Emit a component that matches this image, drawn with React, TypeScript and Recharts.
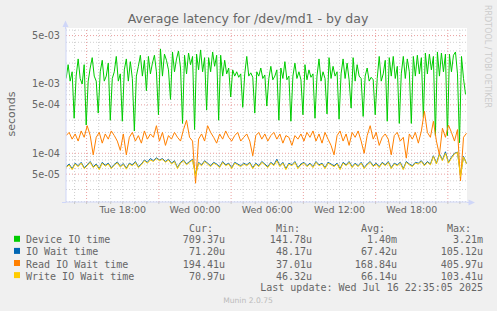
import { LineChart, Line, XAxis, YAxis, CartesianGrid, ReferenceLine } from 'recharts';

// hours counted from Tue 00:00, values in microseconds
// device io is read every 10 minutes, the wait series every 15 minutes
const DEVICE_START = 13.3;
const DEVICE_STEP = 1 / 6;
const WAIT_START = 13.3;
const WAIT_STEP = 0.25;

const deviceIo = [
  1200, 1900, 1100, 1500,
  320, 1300, 2300, 1200, 1000, 1900,
  256, 1100, 1700, 2400, 1300, 1100,
  380, 1500, 2200, 1100, 1300, 2000,
  300, 1200, 1500, 2500, 1100, 1400,
  290, 1600, 2300, 1100, 2100, 1200,
  210, 1300, 1800, 2600, 1300, 2200,
  800, 2500, 1400, 2000, 2600, 1500,
  360, 3210, 1300, 2700, 2200, 1600,
  600, 2900, 1500, 2300, 3000, 1700,
  270, 2600, 1400, 2800, 1900, 2500,
  220, 2700, 1600, 3100, 1500, 2400,
  420, 2400, 1500, 2900, 1800, 2600,
  300, 2600, 1300, 2200, 1400, 1700,
  650, 1600, 1300, 1500, 1250, 1400,
  460, 1400, 2500, 1300, 1450, 1250,
  380, 1500, 1300, 1700, 1200, 1350,
  480, 1200, 1800, 1150, 1300, 1600,
  300, 1700, 1200, 2100, 1150, 1300,
  290, 1300, 2000, 1200, 1500, 1150,
  360, 1900, 1150, 1600, 1250, 1400,
  320, 1300, 2300, 1100, 1500, 1200,
  370, 2400, 1200, 1800, 1300, 1500,
  310, 1400, 2300, 1200, 2000, 1150,
  450, 2400, 1100, 1900, 1300, 1200,
  340, 1300, 1700, 1100, 1250, 1150,
  360, 1200, 2500, 1100, 1400, 2200,
  290, 2400, 1300, 2500, 1200, 1800,
  270, 1400, 2500, 1200, 2300, 1500,
  270, 2500, 1300, 2600, 1400, 2400,
  330, 2800, 1400, 2700, 1600, 2500,
  180, 2900, 1300, 2800, 1500, 2700,
  180, 2700, 1500, 2600, 2900, 1400,
  142, 2500, 1200, 709.37,
];

const ioWait = [
  64, 70, 60, 72, 66, 74, 62, 68, 76, 64,
  70, 60, 74, 67, 72, 62, 69, 75, 65, 71,
  61, 72, 68, 76, 64, 70, 80, 74, 84, 78,
  86, 80, 84, 76, 82, 72, 78, 62, 74, 80,
  70, 76, 82, 49, 74, 68, 78, 72, 66, 74,
  70, 64, 76, 68, 72, 62, 74, 70, 66, 72,
  68, 74, 62, 72, 66, 76, 70, 64, 74, 68,
  82, 66, 74, 60, 72, 68, 76, 62, 70, 74,
  66, 72, 64, 76, 68, 72, 62, 74, 70, 66,
  72, 60, 74, 68, 76, 64, 72, 66, 74, 62,
  70, 76, 66, 72, 64, 74, 68, 76, 62, 72,
  68, 74, 60, 76, 70, 66, 74, 72, 78, 68,
  76, 70, 92, 72, 98, 80, 105, 74, 88, 100,
  104, 48, 90, 71.2,
];

const readWait = [
  180, 200, 160, 190, 150, 210, 170, 250, 180, 95,
  170, 200, 140, 190, 160, 210, 180, 150, 110, 190,
  95, 170, 200, 150, 180, 140, 210, 160, 190, 170,
  250, 150, 200, 130, 180, 160, 200, 170, 150, 220,
  300, 170, 150, 37, 160, 190, 150, 250, 200, 170,
  140, 190, 160, 210, 170, 150, 180, 200, 150, 170,
  190, 150, 92, 180, 200, 160, 190, 150, 180, 200,
  160, 190, 140, 180, 170, 130, 180, 160, 190, 150,
  200, 170, 210, 150, 190, 140, 200, 160, 130, 95,
  180, 210, 150, 190, 130, 200, 170, 210, 150, 100,
  180, 250, 160, 200, 130, 170, 190, 160, 95, 180,
  200, 150, 170, 85, 190, 160, 200, 140, 210, 406,
  200, 170, 290, 150, 95, 230, 170, 255, 200, 150,
  220, 40, 170, 194.41,
];

const writeWait = [
  62, 68, 58, 70, 64, 72, 60, 66, 74, 62,
  68, 58, 72, 65, 70, 60, 67, 73, 63, 69,
  59, 70, 66, 74, 62, 68, 78, 72, 80, 76,
  84, 78, 82, 74, 80, 70, 76, 60, 72, 78,
  68, 74, 80, 47, 72, 66, 76, 70, 64, 72,
  68, 62, 74, 66, 70, 60, 72, 68, 64, 70,
  66, 72, 60, 70, 64, 74, 68, 62, 72, 66,
  78, 64, 72, 58, 70, 66, 74, 60, 68, 72,
  64, 70, 62, 74, 66, 70, 60, 72, 68, 64,
  70, 58, 72, 66, 74, 62, 70, 64, 72, 60,
  68, 74, 64, 70, 62, 72, 66, 74, 60, 70,
  66, 72, 58, 74, 68, 64, 72, 70, 76, 66,
  74, 68, 90, 70, 95, 78, 100, 72, 85, 98,
  103, 46.32, 88, 70.97,
];

const xTickHours = [18, 24, 30, 36, 42];
const xTickLabels = ['Tue 18:00', 'Wed 00:00', 'Wed 06:00', 'Wed 12:00', 'Wed 18:00'];
const yTickValues = [50, 100, 500, 1000, 5000];
const yTickLabels = ['5e-05', '1e-04', '5e-04', '1e-03', '5e-03'];

const seriesNames = ['Device IO time', 'IO Wait time', 'Read IO Wait time', 'Write IO Wait time'];
const seriesColors = ['#00CC00', '#0066B3', '#FF8000', '#FFCC00'];
const curValues = ['709.37u', '71.20u', '194.41u', '70.97u'];
const minValues = ['141.78u', '48.17u', '37.01u', '46.32u'];
const avgValues = ['1.40m', '67.42u', '168.84u', '66.14u'];
const maxValues = ['3.21m', '105.12u', '405.97u', '103.41u'];

const deviceData = deviceIo.map((v, i) => ({ h: DEVICE_START + i * DEVICE_STEP, v }));
const waitData = ioWait.map((v, i) => ({
  h: WAIT_START + i * WAIT_STEP,
  wait: v,
  read: readWait[i],
  write: writeWait[i],
}));

const hourTicks = Array.from({ length: 33 }, (_, i) => 14 + i);
const majorHours = [15, 21, 27, 33, 39, 45];
const minorHours = hourTicks.filter((h) => !majorHours.includes(h));
const majorY = [50, 100, 500, 1000, 5000];
const minorY = [20, 30, 40, 60, 70, 80, 90, 200, 300, 400, 600, 700, 800, 900, 2000, 3000, 4000, 6000];

const FONT = "'DejaVu Sans', sans-serif";
const MONO = "'DejaVu Sans Mono', monospace";
const TEXT = '#666666';
const AXIS = '#CFD6F8';
const GRID_MINOR = '#cfcfcf';
const GRID_MAJOR = '#eaa0a0';

const legendCols = [
  { head: 'Cur:', values: curValues, x: 225 },
  { head: 'Min:', values: minValues, x: 312 },
  { head: 'Avg:', values: avgValues, x: 397 },
  { head: 'Max:', values: maxValues, x: 483 },
];

const App = () => {
  return (
    <div style={{ position: 'fixed', left: 0, top: 0, width: 497, height: 311, background: '#F0F0F0' }}>
      <LineChart width={497} height={311} margin={{ top: 28, right: 30, bottom: 89, left: 6 }}>
        <CartesianGrid fill="#ffffff" stroke="none" horizontal={false} vertical={false} />
        {minorY.map((v) => (
          <ReferenceLine key={`my${v}`} y={v} stroke={GRID_MINOR} strokeDasharray="1 2" />
        ))}
        {minorHours.map((h) => (
          <ReferenceLine key={`mx${h}`} x={h} stroke={GRID_MINOR} strokeDasharray="1 2" />
        ))}
        {majorY.map((v) => (
          <ReferenceLine key={`My${v}`} y={v} stroke={GRID_MAJOR} strokeDasharray="1 2" />
        ))}
        {majorHours.map((h) => (
          <ReferenceLine key={`Mx${h}`} x={h} stroke={GRID_MAJOR} strokeDasharray="1 2" />
        ))}
        <XAxis
          dataKey="h"
          type="number"
          domain={[13.29, 46.59]}
          allowDataOverflow
          ticks={hourTicks}
          interval={0}
          tickFormatter={(v: number) => {
            const i = xTickHours.indexOf(v);
            return i >= 0 ? xTickLabels[i] : '';
          }}
          tick={{ fontSize: 9.5, fill: TEXT, fontFamily: FONT }}
          tickLine={{ stroke: '#c8c8c8' }}
          tickSize={2}
          tickMargin={2}
          axisLine={{ stroke: AXIS }}
          height={20}
        />
        <YAxis
          type="number"
          scale="log"
          domain={[19.8, 6430]}
          allowDataOverflow
          ticks={yTickValues}
          interval={0}
          tickFormatter={(v: number) => yTickLabels[yTickValues.indexOf(v)] ?? ''}
          tick={{ fontSize: 9.7, fill: TEXT, fontFamily: FONT }}
          tickLine={false}
          tickSize={4}
          tickMargin={2}
          axisLine={{ stroke: AXIS }}
          width={60}
        />
        <Line
          data={deviceData}
          dataKey="v"
          type="linear"
          stroke={seriesColors[0]}
          strokeWidth={1}
          dot={false}
          activeDot={false}
          isAnimationActive={false}
        />
        {['wait', 'read', 'write'].map((k, i) => (
          <Line
            key={k}
            data={waitData}
            dataKey={k}
            type="linear"
            stroke={seriesColors[i + 1]}
            strokeWidth={1}
            dot={false}
            activeDot={false}
            isAnimationActive={false}
          />
        ))}
      </LineChart>
      <svg width={497} height={311} style={{ position: 'absolute', left: 0, top: 0, pointerEvents: 'none' }}>
        <text x={248} y={23} textAnchor="middle" fontFamily={FONT} fontSize={12.5} fill={TEXT}>
          Average latency for /dev/md1 - by day
        </text>
        <text x={15} y={114} textAnchor="middle" fontFamily={FONT} fontSize={11} fill={TEXT} transform="rotate(-90 15 114)">
          seconds
        </text>
        <text x={485} y={5} fontFamily={FONT} fontSize={8} fill="#cccccc" transform="rotate(90 485 5)">
          RRDTOOL / TOBI OETIKER
        </text>
        <line x1={65.5} y1={26} x2={65.5} y2={29} stroke={AXIS} />
        <polygon points="62.5,27 65.5,20.5 68.5,27" fill={AXIS} />
        <line x1={62} y1={202.5} x2={66} y2={202.5} stroke={AXIS} />
        <line x1={467} y1={202.5} x2={469} y2={202.5} stroke={AXIS} />
        <polygon points="468.5,199.5 475,202.5 468.5,205.5" fill={AXIS} />
        {legendCols.map((c) => (
          <text key={c.head} x={c.x - 12} y={231.5} textAnchor="end" fontFamily={MONO} fontSize={10} fill={TEXT}>
            {c.head}
          </text>
        ))}
        {seriesNames.map((name, i) => {
          const y = 243.3 + i * 12.1;
          return (
            <g key={name}>
              <rect x={14} y={y - 7.5} width={6} height={6} fill={seriesColors[i]} />
              <text x={26} y={y} fontFamily={MONO} fontSize={10} fill={TEXT} style={{ whiteSpace: 'pre' }}>
                {name}
              </text>
              {legendCols.map((c) => (
                <text key={c.head} x={c.x} y={y} textAnchor="end" fontFamily={MONO} fontSize={10} fill={TEXT}>
                  {c.values[i]}
                </text>
              ))}
            </g>
          );
        })}
        <text x={483} y={291} textAnchor="end" fontFamily={MONO} fontSize={10} fill={TEXT}>
          Last update: Wed Jul 16 22:35:05 2025
        </text>
        <text x={248} y={303} textAnchor="middle" fontFamily={FONT} fontSize={7.6} fill="#bbbbbb">
          Munin 2.0.75
        </text>
      </svg>
    </div>
  );
};

export default App;
